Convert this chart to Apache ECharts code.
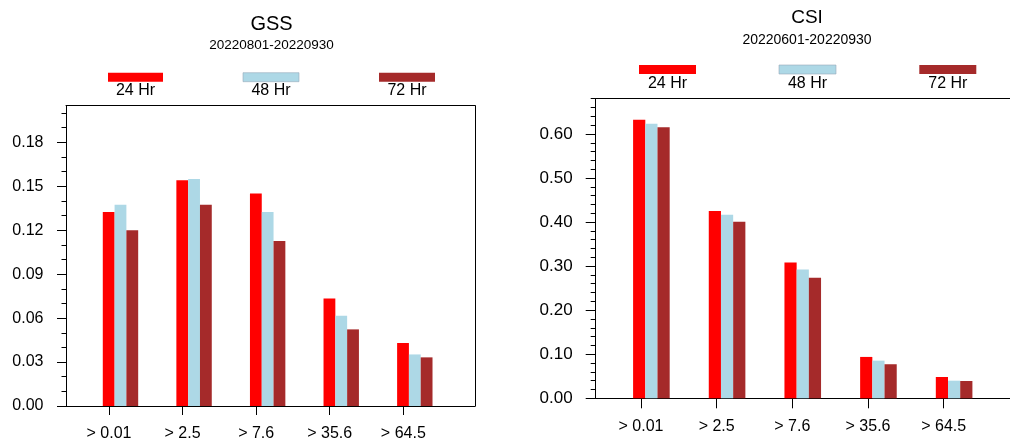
<!DOCTYPE html>
<html><head><meta charset="utf-8">
<script src="https://cdn.jsdelivr.net/npm/echarts@6/dist/echarts.min.js"></script>
<style>html,body{margin:0;padding:0;background:#fff}#c{width:1010px;height:443px}</style>
</head><body><div id="c"></div>
<script>
// ---- data ----
const categories = ['> 0.01', '> 2.5', '> 7.6', '> 35.6', '> 64.5'];
const leadTimes = ['24 Hr', '48 Hr', '72 Hr'];
const gss24 = [0.1325, 0.1541, 0.1450, 0.0734, 0.0430];
const gss48 = [0.1373, 0.1550, 0.1325, 0.0616, 0.0352];
const gss72 = [0.1200, 0.1373, 0.1127, 0.0523, 0.0332];
const csi24 = [0.6325, 0.4250, 0.3082, 0.0939, 0.0484];
const csi48 = [0.6234, 0.4166, 0.2923, 0.0855, 0.0400];
const csi72 = [0.6150, 0.4007, 0.2734, 0.0773, 0.0393];
const gssTicks = [0, 0.03, 0.06, 0.09, 0.12, 0.15, 0.18];
const csiTicks = [0, 0.10, 0.20, 0.30, 0.40, 0.50, 0.60];
const gssTitle = 'GSS', gssPeriod = '20220801-20220930';
const csiTitle = 'CSI', csiPeriod = '20220601-20220930';

// ---- styles / layout ----
const colors = ['#ff0000', '#add8e6', '#a52a2a'];
const FONT = "'Liberation Sans', Helvetica, Arial, sans-serif";
const LINE = { color: '#000', width: 1 };

const panels = [
  { title: gssTitle, period: gssPeriod, series: [gss24, gss48, gss72], ticks: gssTicks,
    yMax: 0.205, interval: 0.03, minorSplit: 3,
    frame: { left: 66, top: 105.7, width: 409, height: 300.3 }, rightBorder: true,
    labelGrid: { left: 72.2, width: 367.9 }, barShift: 11.5, barWidth: 11.8,
    titleX: 271.5, titleTop: 14.5, titleSize: 20, subSize: 13.5, titleGap: 4,
    yLabelSize: 16, yMargin: 22.5, xLabelSize: 16, xMargin: 20,
    legendRects: [[108, 72.7, 55, 9], [243, 72.7, 56, 9], [379, 72.7, 56, 9]], legendTextY: 90.5,
    majorLen: 9, minorLen: 4.5 },
  { title: csiTitle, period: csiPeriod, series: [csi24, csi48, csi72], ticks: csiTicks,
    yMax: 0.68, interval: 0.1, minorSplit: 5,
    frame: { left: 595.7, top: 98.7, width: 450, height: 299.6 }, rightBorder: false,
    labelGrid: { left: 603.15, width: 378.4 }, barShift: 10.4, barWidth: 12.2,
    titleX: 807, titleTop: 8, titleSize: 19, subSize: 14, titleGap: 6,
    yLabelSize: 17, yMargin: 23, xLabelSize: 16, xMargin: 20,
    legendRects: [[639, 65, 57, 9], [779, 65, 57, 9], [919.3, 65, 57, 9]], legendTextY: 84,
    majorLen: 10, minorLen: 5 }
];

const grid = [], xAxis = [], yAxis = [], series = [], title = [], graphic = [];
const gridCommon = { containLabel: false, outerBoundsMode: 'none', show: false };

panels.forEach((p) => {
  const f = p.frame;
  const gF = grid.length;
  grid.push(Object.assign({ left: f.left, top: f.top, width: f.width, height: f.height }, gridCommon));
  const gL = grid.length;
  grid.push(Object.assign({ left: p.labelGrid.left, top: f.top, width: p.labelGrid.width, height: f.height }, gridCommon));
  const gB = grid.length;
  grid.push(Object.assign({ left: p.labelGrid.left + p.barShift, top: f.top, width: p.labelGrid.width, height: f.height }, gridCommon));

  // frame: bottom and top lines
  const frameX = { gridIndex: gF, type: 'value', min: 0, max: 1, axisLine: { show: true, onZero: false, lineStyle: LINE },
    axisTick: { show: false }, axisLabel: { show: false }, splitLine: { show: false } };
  xAxis.push(Object.assign({ position: 'bottom' }, frameX));
  xAxis.push(Object.assign({ position: 'top' }, frameX));
  // category labels + ticks
  xAxis.push({ gridIndex: gL, type: 'category', data: categories, boundaryGap: true,
    axisLine: { show: false },
    axisTick: { show: true, alignWithLabel: true, length: p.majorLen, lineStyle: LINE },
    axisLabel: { show: true, interval: 0, margin: p.xMargin, color: '#000', fontSize: p.xLabelSize, fontFamily: FONT },
    splitLine: { show: false } });
  const xB = xAxis.length;
  xAxis.push({ gridIndex: gB, type: 'category', data: categories, boundaryGap: true, show: false });

  // frame: left value axis
  yAxis.push({ gridIndex: gF, type: 'value', position: 'left', min: 0, max: p.yMax, interval: p.interval,
    axisLine: { show: true, onZero: false, lineStyle: LINE },
    axisTick: { show: true, inside: false, length: p.majorLen, customValues: p.ticks, lineStyle: LINE },
    minorTick: { show: true, splitNumber: p.minorSplit, length: p.minorLen, lineStyle: LINE },
    axisLabel: { show: true, customValues: p.ticks, margin: p.yMargin, color: '#000', fontSize: p.yLabelSize,
      fontFamily: FONT, formatter: v => Number(v).toFixed(2) },
    splitLine: { show: false }, minorSplitLine: { show: false } });
  // frame: right line
  yAxis.push({ gridIndex: gF, type: 'value', position: 'right', min: 0, max: p.yMax, show: p.rightBorder,
    axisLine: { show: true, onZero: false, lineStyle: LINE }, axisTick: { show: false }, axisLabel: { show: false },
    splitLine: { show: false } });
  yAxis.push({ gridIndex: gL, type: 'value', min: 0, max: 1, show: false });
  const yB = yAxis.length;
  yAxis.push({ gridIndex: gB, type: 'value', min: 0, max: p.yMax, show: false });

  p.series.forEach((vals, si) => {
    series.push({ type: 'bar', name: leadTimes[si], xAxisIndex: xB, yAxisIndex: yB,
      data: vals, barWidth: p.barWidth, barGap: '0%', itemStyle: { color: colors[si] },
      emphasis: { disabled: true }, animation: false });
  });

  title.push({ text: p.title, subtext: p.period, left: p.titleX, top: p.titleTop, textAlign: 'center',
    padding: 0, itemGap: p.titleGap,
    textStyle: { fontSize: p.titleSize, fontWeight: 'normal', color: '#000', fontFamily: FONT },
    subtextStyle: { fontSize: p.subSize, color: '#000', fontFamily: FONT } });

  p.legendRects.forEach((r, si) => {
    graphic.push({ type: 'rect', shape: { x: r[0], y: r[1], width: r[2], height: r[3] },
      style: { fill: colors[si], stroke: si === 1 ? '#9ab' : null, lineWidth: si === 1 ? 0.6 : 0 } });
    graphic.push({ type: 'text', x: r[0] + r[2] / 2, y: p.legendTextY,
      style: { text: leadTimes[si], fill: '#000', font: '16px ' + FONT, textAlign: 'center', textVerticalAlign: 'middle',
        align: 'center', verticalAlign: 'middle' } });
  });
});

const chart = echarts.init(document.getElementById('c'), null, { renderer: 'canvas' });
chart.setOption({ backgroundColor: '#fff', animation: false, grid, xAxis, yAxis, series, title, graphic });
</script>
</body></html>
